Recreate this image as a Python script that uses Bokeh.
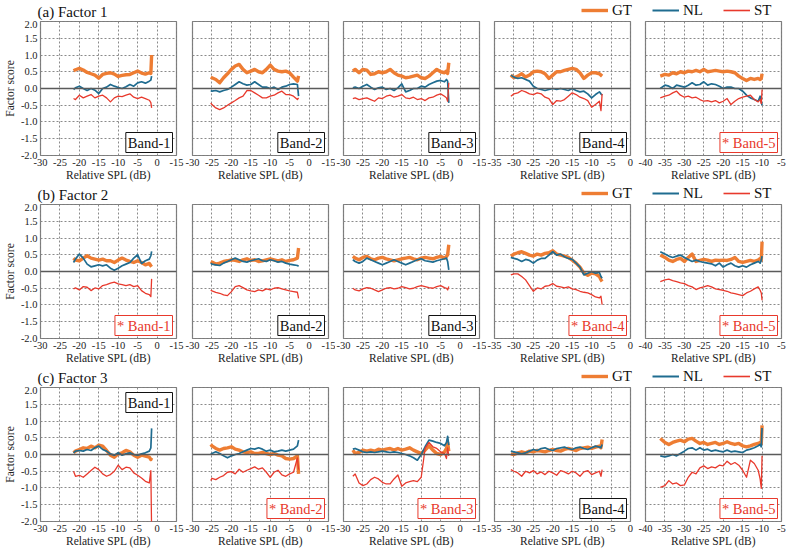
from bokeh.plotting import figure
from bokeh.layouts import row, column
from bokeh.models import (FixedTicker, Span, Label, Legend, LegendItem,
                          NumeralTickFormatter, Range1d)
from bokeh.embed import file_html
from bokeh.resources import INLINE

# ---------------- data ----------------
X_B1 = [-21.5, -21, -20, -19, -18, -17, -16, -15, -14, -13, -12, -11, -10, -9, -8, -7, -6, -5, -4, -3, -2, -1.6, -1.4]
X_B2 = [-25.3, -25, -24, -23, -22, -21, -20, -19, -18, -17, -16, -15, -14, -13, -12, -11, -10, -9, -8, -7, -6, -5, -4, -3, -2.7]
X_B3 = [-27.6, -27, -26, -25, -24, -23, -22, -21, -20, -19, -18, -17, -16, -15, -14, -13, -12, -11, -10, -9, -8, -7, -6, -5, -4, -3.5, -3.2, -2.9]
X_B4 = [-30.8, -30, -29, -28, -27, -26, -25, -24, -23, -22, -21, -20, -19, -18, -17, -16, -15, -14, -13, -12, -11, -10, -9, -8, -7.6, -7.3]
X_B5 = [-36.2, -35, -34, -33, -32, -31, -30, -29, -28, -27, -26, -25, -24, -23, -22, -21, -20, -19, -18, -17, -16, -15, -14, -13, -12, -11, -10.5, -10.2, -10.0]

# Factor 1
F1_B1_GT = [0.53, 0.56, 0.60, 0.55, 0.48, 0.44, 0.40, 0.31, 0.42, 0.45, 0.47, 0.43, 0.36, 0.39, 0.41, 0.42, 0.47, 0.52, 0.46, 0.43, 0.47, 0.45, 1.0]
F1_B1_NL = [-0.03, 0.02, 0.07, 0.0, -0.06, 0.0, -0.05, -0.15, 0.0, 0.04, 0.12, 0.07, 0.03, 0.0, 0.05, 0.12, 0.07, 0.17, 0.2, 0.16, 0.22, 0.25, 0.37]
F1_B1_ST = [-0.3, -0.33, -0.2, -0.28, -0.23, -0.18, -0.28, -0.23, -0.2, -0.28, -0.4, -0.28, -0.23, -0.24, -0.2, -0.16, -0.26, -0.3, -0.26, -0.3, -0.35, -0.42, -0.58]

F1_B2_GT = [0.34, 0.32, 0.27, 0.17, 0.32, 0.44, 0.57, 0.67, 0.72, 0.57, 0.47, 0.52, 0.57, 0.50, 0.47, 0.57, 0.70, 0.57, 0.52, 0.50, 0.52, 0.47, 0.34, 0.22, 0.38]
F1_B2_NL = [-0.06, -0.08, -0.06, -0.10, -0.06, -0.03, 0.04, 0.12, 0.20, 0.14, 0.10, 0.12, 0.20, 0.12, 0.04, 0.04, 0.0, 0.04, -0.03, 0.04, 0.07, 0.12, 0.14, 0.12, -0.23]
F1_B2_ST = [-0.43, -0.48, -0.58, -0.63, -0.58, -0.50, -0.43, -0.36, -0.28, -0.23, -0.06, -0.06, -0.13, -0.20, -0.28, -0.28, -0.23, -0.20, -0.13, -0.08, -0.18, -0.18, -0.23, -0.33, -0.28]

F1_B3_GT = [0.52, 0.57, 0.47, 0.57, 0.55, 0.42, 0.44, 0.50, 0.47, 0.50, 0.57, 0.47, 0.40, 0.37, 0.32, 0.34, 0.37, 0.40, 0.32, 0.30, 0.37, 0.47, 0.57, 0.50, 0.47, 0.52, 0.45, 0.77]
F1_B3_NL = [0.02, 0.04, 0.0, 0.07, 0.12, 0.04, -0.03, 0.02, 0.04, -0.03, 0.0, -0.06, 0.02, 0.14, -0.10, -0.06, 0.0, 0.0, 0.07, 0.04, 0.12, 0.17, 0.22, 0.24, 0.20, 0.27, 0.22, -0.43]
F1_B3_ST = [-0.30, -0.28, -0.33, -0.30, -0.28, -0.33, -0.38, -0.28, -0.30, -0.23, -0.20, -0.26, -0.23, -0.18, -0.28, -0.30, -0.26, -0.33, -0.30, -0.36, -0.28, -0.26, -0.20, -0.16, -0.23, -0.28, -0.38, 0.17]

F1_B4_GT = [0.40, 0.32, 0.37, 0.44, 0.34, 0.40, 0.50, 0.52, 0.50, 0.44, 0.30, 0.40, 0.50, 0.50, 0.54, 0.57, 0.60, 0.57, 0.47, 0.30, 0.40, 0.47, 0.47, 0.44, 0.40, 0.37]
F1_B4_NL = [0.40, 0.34, 0.30, 0.32, 0.27, 0.22, 0.07, 0.0, -0.03, -0.06, -0.03, 0.0, -0.03, 0.0, -0.03, -0.06, 0.0, -0.06, -0.10, -0.08, -0.16, -0.28, -0.18, -0.10, -0.16, -0.20]
F1_B4_ST = [-0.23, -0.16, -0.13, -0.06, -0.10, -0.16, -0.18, -0.13, -0.16, -0.26, -0.30, -0.48, -0.36, -0.38, -0.33, -0.23, -0.13, -0.18, -0.26, -0.30, -0.36, -0.56, -0.48, -0.38, -0.66, -0.16]

F1_B5_GT = [0.37, 0.42, 0.40, 0.47, 0.44, 0.50, 0.47, 0.52, 0.50, 0.54, 0.50, 0.57, 0.50, 0.52, 0.54, 0.52, 0.50, 0.52, 0.50, 0.47, 0.37, 0.30, 0.24, 0.30, 0.27, 0.30, 0.27, 0.30, 0.44]
F1_B5_NL = [0.0, 0.10, 0.07, 0.0, 0.10, 0.07, 0.04, 0.10, 0.17, 0.10, 0.12, 0.20, 0.10, 0.14, 0.12, 0.07, 0.0, 0.04, 0.04, 0.0, 0.0, -0.08, -0.20, -0.28, -0.33, -0.38, -0.23, -0.40, -0.50]
F1_B5_ST = [-0.28, -0.23, -0.20, -0.13, -0.08, -0.20, -0.26, -0.23, -0.28, -0.26, -0.33, -0.38, -0.36, -0.40, -0.36, -0.43, -0.38, -0.30, -0.48, -0.38, -0.30, -0.26, -0.23, -0.20, -0.33, -0.40, -0.33, -0.45, -0.03]

# Factor 2
F2_B1_GT = [0.40, 0.34, 0.32, 0.40, 0.47, 0.40, 0.37, 0.34, 0.37, 0.32, 0.32, 0.27, 0.34, 0.40, 0.34, 0.30, 0.27, 0.32, 0.27, 0.20, 0.24, 0.17, 0.14]
F2_B1_NL = [0.27, 0.37, 0.52, 0.40, 0.22, 0.14, 0.17, 0.20, 0.17, 0.20, 0.10, 0.04, 0.10, 0.17, 0.22, 0.27, 0.40, 0.50, 0.24, 0.32, 0.37, 0.47, 0.60]
F2_B1_ST = [-0.52, -0.49, -0.55, -0.45, -0.47, -0.57, -0.49, -0.52, -0.42, -0.39, -0.35, -0.32, -0.37, -0.39, -0.42, -0.39, -0.45, -0.42, -0.57, -0.65, -0.69, -0.75, -0.22]

F2_B2_GT = [0.30, 0.28, 0.22, 0.25, 0.30, 0.32, 0.35, 0.33, 0.30, 0.35, 0.38, 0.33, 0.35, 0.30, 0.32, 0.35, 0.38, 0.35, 0.32, 0.35, 0.30, 0.33, 0.35, 0.40, 0.70]
F2_B2_NL = [0.25, 0.22, 0.20, 0.18, 0.25, 0.30, 0.35, 0.40, 0.35, 0.30, 0.28, 0.32, 0.35, 0.38, 0.32, 0.30, 0.35, 0.32, 0.28, 0.30, 0.25, 0.22, 0.20, 0.18, 0.15]
F2_B2_ST = [-0.55, -0.58, -0.62, -0.65, -0.70, -0.72, -0.60, -0.45, -0.42, -0.48, -0.55, -0.58, -0.60, -0.55, -0.58, -0.52, -0.55, -0.50, -0.48, -0.52, -0.55, -0.58, -0.60, -0.62, -0.80]

F2_B3_GT = [0.45, 0.40, 0.35, 0.42, 0.45, 0.38, 0.35, 0.40, 0.42, 0.38, 0.35, 0.32, 0.35, 0.38, 0.40, 0.42, 0.38, 0.35, 0.40, 0.42, 0.40, 0.38, 0.42, 0.45, 0.40, 0.45, 0.50, 0.80]
F2_B3_NL = [0.35, 0.30, 0.25, 0.30, 0.40, 0.35, 0.30, 0.25, 0.20, 0.25, 0.30, 0.35, 0.30, 0.25, 0.20, 0.25, 0.30, 0.35, 0.38, 0.32, 0.30, 0.28, 0.32, 0.35, 0.38, 0.40, 0.30, 0.05]
F2_B3_ST = [-0.50, -0.55, -0.58, -0.52, -0.48, -0.50, -0.55, -0.60, -0.55, -0.50, -0.48, -0.52, -0.50, -0.45, -0.48, -0.52, -0.50, -0.45, -0.42, -0.45, -0.48, -0.50, -0.45, -0.42, -0.48, -0.50, -0.55, -0.45]

F2_B4_GT = [0.46, 0.52, 0.56, 0.59, 0.54, 0.49, 0.46, 0.52, 0.49, 0.54, 0.56, 0.62, 0.52, 0.49, 0.46, 0.42, 0.34, 0.25, 0.13, -0.05, -0.11, -0.05, -0.07, -0.15, -0.25, -0.30]
F2_B4_NL = [0.42, 0.39, 0.36, 0.30, 0.36, 0.33, 0.25, 0.34, 0.39, 0.39, 0.49, 0.59, 0.49, 0.52, 0.44, 0.39, 0.36, 0.25, 0.13, -0.10, -0.05, 0.0, -0.05, -0.03, -0.15, -0.20]
F2_B4_ST = [-0.10, -0.07, -0.07, -0.15, -0.25, -0.42, -0.59, -0.49, -0.52, -0.44, -0.42, -0.36, -0.44, -0.46, -0.49, -0.46, -0.52, -0.54, -0.59, -0.62, -0.64, -0.69, -0.76, -0.79, -0.74, -0.99]

F2_B5_GT = [0.49, 0.42, 0.34, 0.30, 0.36, 0.39, 0.30, 0.42, 0.52, 0.30, 0.33, 0.36, 0.34, 0.30, 0.34, 0.33, 0.34, 0.33, 0.36, 0.42, 0.30, 0.27, 0.30, 0.33, 0.30, 0.34, 0.39, 0.34, 0.89]
F2_B5_NL = [0.59, 0.52, 0.46, 0.42, 0.46, 0.49, 0.42, 0.36, 0.30, 0.34, 0.30, 0.27, 0.25, 0.23, 0.17, 0.25, 0.13, 0.20, 0.25, 0.17, 0.13, 0.17, 0.13, 0.20, 0.25, 0.30, 0.25, 0.34, 0.46]
F2_B5_ST = [-0.30, -0.25, -0.23, -0.27, -0.30, -0.34, -0.36, -0.42, -0.46, -0.54, -0.49, -0.46, -0.42, -0.46, -0.52, -0.54, -0.56, -0.59, -0.64, -0.66, -0.69, -0.72, -0.64, -0.59, -0.52, -0.46, -0.56, -0.64, -0.86]

# Factor 3
F3_B1_GT = [0.05, 0.10, 0.15, 0.20, 0.18, 0.25, 0.20, 0.28, 0.25, 0.12, -0.02, -0.08, 0.02, 0.05, 0.12, 0.08, -0.02, -0.08, -0.02, -0.05, -0.08, -0.15, -0.10]
F3_B1_NL = [0.05, 0.10, 0.12, 0.10, 0.15, 0.12, 0.20, 0.25, 0.15, 0.10, 0.02, -0.02, 0.05, -0.02, 0.02, 0.05, 0.0, -0.02, 0.02, 0.05, 0.10, 0.20, 0.78]
F3_B1_ST = [-0.50, -0.65, -0.62, -0.68, -0.58, -0.48, -0.38, -0.45, -0.58, -0.65, -0.60, -0.50, -0.32, -0.45, -0.38, -0.40, -0.55, -0.62, -0.70, -0.80, -0.85, -0.48, -2.3]

F3_B2_GT = [0.30, 0.26, 0.18, 0.13, 0.18, 0.20, 0.23, 0.16, 0.13, 0.08, 0.06, 0.08, 0.03, 0.03, 0.06, 0.03, 0.0, 0.03, -0.02, -0.04, -0.12, -0.14, -0.12, -0.04, -0.58]
F3_B2_NL = [0.0, 0.03, 0.08, 0.03, -0.04, -0.10, -0.04, 0.0, 0.03, 0.08, 0.13, 0.18, 0.16, 0.20, 0.16, 0.10, 0.13, 0.08, 0.10, 0.13, 0.10, 0.13, 0.16, 0.26, 0.43]
F3_B2_ST = [-0.78, -0.71, -0.75, -0.68, -0.63, -0.53, -0.51, -0.58, -0.44, -0.53, -0.47, -0.42, -0.37, -0.44, -0.40, -0.53, -0.68, -0.53, -0.47, -0.61, -0.65, -0.58, -0.53, -0.10, -0.45]

F3_B3_GT = [0.13, 0.03, 0.06, 0.13, 0.10, 0.13, 0.10, 0.16, 0.13, 0.16, 0.18, 0.13, 0.18, 0.13, 0.16, 0.20, 0.13, 0.08, 0.03, 0.13, 0.26, 0.13, 0.03, 0.0, 0.08, 0.18, 0.36, 0.10]
F3_B3_NL = [0.16, 0.18, 0.13, 0.08, 0.06, 0.08, 0.06, 0.08, 0.10, 0.08, 0.06, 0.08, 0.06, 0.03, 0.0, -0.04, -0.10, -0.17, 0.0, 0.23, 0.43, 0.40, 0.36, 0.33, 0.26, 0.36, 0.54, 0.28]
F3_B3_ST = [-0.65, -0.58, -0.85, -0.93, -0.88, -0.75, -0.68, -0.73, -0.83, -0.88, -0.88, -0.73, -0.61, -0.95, -0.85, -0.81, -0.78, -0.81, -0.68, 0.18, 0.36, 0.23, 0.18, 0.08, 0.03, -0.12, 0.20, -0.04]

F3_B4_GT = [0.02, 0.0, 0.05, 0.08, 0.05, 0.10, 0.08, 0.12, 0.10, 0.08, 0.12, 0.15, 0.12, 0.10, 0.15, 0.18, 0.15, 0.12, 0.18, 0.20, 0.22, 0.18, 0.22, 0.25, 0.20, 0.45]
F3_B4_NL = [0.10, 0.08, 0.05, 0.02, 0.05, 0.10, 0.15, 0.12, 0.18, 0.20, 0.15, 0.12, 0.18, 0.20, 0.22, 0.18, 0.15, 0.20, 0.22, 0.18, 0.15, 0.20, 0.25, 0.22, 0.20, 0.30]
F3_B4_ST = [-0.45, -0.50, -0.55, -0.65, -0.50, -0.55, -0.48, -0.58, -0.52, -0.60, -0.50, -0.55, -0.62, -0.48, -0.52, -0.58, -0.50, -0.55, -0.65, -0.52, -0.48, -0.60, -0.55, -0.50, -0.65, -0.45]

F3_B5_GT = [0.48, 0.36, 0.30, 0.36, 0.40, 0.43, 0.38, 0.46, 0.48, 0.40, 0.33, 0.36, 0.30, 0.33, 0.36, 0.30, 0.33, 0.38, 0.33, 0.30, 0.33, 0.26, 0.23, 0.26, 0.30, 0.33, 0.36, 0.33, 0.87]
F3_B5_NL = [-0.04, -0.07, -0.04, 0.0, -0.04, 0.03, 0.10, 0.18, 0.20, 0.13, 0.20, 0.13, 0.16, 0.10, 0.13, 0.10, 0.08, 0.13, 0.08, 0.10, 0.08, 0.06, 0.13, 0.16, 0.20, 0.26, 0.30, 0.23, 0.79]
F3_B5_ST = [-0.98, -0.93, -0.78, -0.88, -0.85, -0.93, -0.91, -0.68, -0.53, -0.58, -0.40, -0.34, -0.42, -0.37, -0.40, -0.32, -0.34, -0.20, -0.30, -0.24, -0.32, -0.47, -0.68, -0.17, -0.27, -0.47, -0.73, -1.01, -0.04]

FACTOR_TITLES = ["(a) Factor 1", "(b) Factor 2", "(c) Factor 3"]
BAND_NAMES = ["Band-1", "Band-2", "Band-3", "Band-4", "Band-5"]
SIGNIFICANT = [[False, False, False, False, True],
               [True, False, False, True, True],
               [False, True, True, False, True]]
SERIES_NAMES = ["GT", "NL", "ST"]
Y_TICKS = [-2.0, -1.5, -1.0, -0.5, 0.0, 0.5, 1.0, 1.5, 2.0]
X_TICKS = [[-30, -25, -20, -15, -10, -5, 0, 5],
           [-30, -25, -20, -15, -10, -5, 0, 5],
           [-30, -25, -20, -15, -10, -5, 0, 5],
           [-35, -30, -25, -20, -15, -10, -5, 0],
           [-40, -35, -30, -25, -20, -15, -10, -5]]
X_TICK_LABELS = [["-30", "-25", "-20", "-15", "-10", "-5", "0", "-15"],
                 ["-30", "-25", "-20", "-15", "-10", "-5", "0", "-15"],
                 ["-30", "-25", "-20", "-15", "-10", "-5", "0", "-15"],
                 ["-35", "-30", "-25", "-20", "-15", "-10", "-5", "0"],
                 ["-40", "-35", "-30", "-25", "-20", "-15", "-10", "-5"]]

X_BY_BAND = [X_B1, X_B2, X_B3, X_B4, X_B5]
DATA = [
    [(F1_B1_GT, F1_B1_NL, F1_B1_ST), (F1_B2_GT, F1_B2_NL, F1_B2_ST), (F1_B3_GT, F1_B3_NL, F1_B3_ST),
     (F1_B4_GT, F1_B4_NL, F1_B4_ST), (F1_B5_GT, F1_B5_NL, F1_B5_ST)],
    [(F2_B1_GT, F2_B1_NL, F2_B1_ST), (F2_B2_GT, F2_B2_NL, F2_B2_ST), (F2_B3_GT, F2_B3_NL, F2_B3_ST),
     (F2_B4_GT, F2_B4_NL, F2_B4_ST), (F2_B5_GT, F2_B5_NL, F2_B5_ST)],
    [(F3_B1_GT, F3_B1_NL, F3_B1_ST), (F3_B2_GT, F3_B2_NL, F3_B2_ST), (F3_B3_GT, F3_B3_NL, F3_B3_ST),
     (F3_B4_GT, F3_B4_NL, F3_B4_ST), (F3_B5_GT, F3_B5_NL, F3_B5_ST)],
]

# ---------------- styles ----------------
FONT = "Liberation Serif"
COLORS = {"GT": "#EE7D33", "NL": "#1F6C90", "ST": "#E8392C"}
WIDTHS = {"GT": 3.4, "NL": 1.7, "ST": 1.3}
RED_LABEL = "#E8392C"
FW, FH = 136, 134
HEADER_W, HEADER_H = 790, 20
EPS = 0.002


def header(fi):
    h = figure(frame_width=HEADER_W, frame_height=HEADER_H,
               x_range=Range1d(0, HEADER_W), y_range=Range1d(0, HEADER_H),
               output_backend="svg", toolbar_location=None,
               min_border_left=0, min_border_right=0, min_border_top=0, min_border_bottom=0)
    h.axis.visible = False
    h.grid.visible = False
    h.outline_line_color = None
    h.background_fill_color = "white"
    h.border_fill_color = "white"
    h.add_layout(Label(x=37, y=1, x_units="screen", y_units="screen", text=FACTOR_TITLES[fi],
                       text_font=FONT, text_font_size="15px", text_baseline="bottom",
                       text_color="#111111"))
    # legend: its renderers carry the series (kept hidden here, drawn in the panels)
    items = []
    for k, name in enumerate(SERIES_NAMES):
        r = h.line(X_B1, DATA[fi][0][k], line_color=COLORS[name],
                   line_width=WIDTHS[name] + (0.3 if name != "GT" else 0), visible=False)
        items.append(LegendItem(label=name, renderers=[r]))
    leg = Legend(items=items, location=(581, 0), orientation="horizontal",
                 glyph_width=27, glyph_height=20, label_height=20, label_width=18,
                 label_standoff=4, padding=0, margin=0, spacing=20,
                 border_line_color=None, background_fill_alpha=0,
                 inactive_fill_alpha=0, click_policy="none",
                 label_text_font=FONT, label_text_font_size="15px",
                 label_text_color="#111111")
    h.add_layout(leg)
    return h


blocks = []
for fi in range(3):
    figs = []
    for bi in range(5):
        left = 37 if bi == 0 else 8
        right = 8 if bi == 0 else 7
        xt = X_TICKS[bi]
        p = figure(frame_width=FW, frame_height=FH,
                   x_range=Range1d(xt[0] - EPS, xt[-1] + EPS),
                   y_range=Range1d(-2.0 - EPS / 4, 2.0 + EPS / 4),
                   output_backend="svg", toolbar_location=None,
                   min_border_left=left, min_border_right=right,
                   min_border_top=1, min_border_bottom=27)
        p.background_fill_color = "white"
        p.border_fill_color = "white"
        p.outline_line_color = "#7a7a7a"
        p.outline_line_width = 1.2

        # x axis
        p.xaxis.ticker = FixedTicker(ticks=xt)
        p.xaxis.major_label_overrides = {t: lab for t, lab in zip(xt, X_TICK_LABELS[bi])}
        p.xaxis.axis_label = "Relative SPL (dB)"
        p.xaxis.axis_line_color = None
        p.xaxis.major_tick_line_color = None
        p.xaxis.minor_tick_line_color = None
        p.xaxis.major_tick_out = 0
        p.xaxis.major_tick_in = 0
        p.xaxis.major_label_standoff = 3
        p.xaxis.axis_label_standoff = 0
        p.xaxis.major_label_text_font = FONT
        p.xaxis.major_label_text_font_size = "10.5px"
        p.xaxis.major_label_text_color = "#222222"
        p.xaxis.axis_label_text_font = FONT
        p.xaxis.axis_label_text_font_style = "normal"
        p.xaxis.axis_label_text_font_size = "11.5px"
        p.xaxis.axis_label_text_color = "#222222"

        # y axis
        if bi == 0:
            p.yaxis.ticker = FixedTicker(ticks=Y_TICKS)
            p.yaxis.formatter = NumeralTickFormatter(format="0.0")
            p.yaxis.axis_label = "Factor score"
            p.yaxis.axis_line_color = None
            p.yaxis.major_tick_line_color = None
            p.yaxis.minor_tick_line_color = None
            p.yaxis.major_tick_out = 0
            p.yaxis.major_tick_in = 0
            p.yaxis.major_label_standoff = 3
            p.yaxis.axis_label_standoff = 2
            p.yaxis.major_label_text_font = FONT
            p.yaxis.major_label_text_font_size = "10.5px"
            p.yaxis.major_label_text_color = "#222222"
            p.yaxis.axis_label_text_font = FONT
            p.yaxis.axis_label_text_font_style = "normal"
            p.yaxis.axis_label_text_font_size = "11.5px"
            p.yaxis.axis_label_text_color = "#222222"
        else:
            p.yaxis.visible = False
        p.ygrid.ticker = FixedTicker(ticks=Y_TICKS)

        p.grid.grid_line_color = "#8a8a8a"
        p.grid.grid_line_dash = "2 2"
        p.grid.grid_line_width = 1

        p.add_layout(Span(location=0, dimension="width", line_color="#5a5a5a", line_width=1.3))

        xs = X_BY_BAND[bi]
        for name, ys in zip(SERIES_NAMES, DATA[fi][bi]):
            p.line(xs, ys, line_color=COLORS[name], line_width=WIDTHS[name], line_join="round")

        # band label
        sig = SIGNIFICANT[fi][bi]
        txt = ("* " if sig else "") + BAND_NAMES[bi]
        col = RED_LABEL if sig else "#111111"
        if fi == 2 and bi == 0:
            lab = Label(x=FW - 4, y=FH - 5, x_units="screen", y_units="screen", text=txt,
                        text_align="right", text_baseline="top")
        else:
            lab = Label(x=FW - 4, y=3, x_units="screen", y_units="screen", text=txt,
                        text_align="right", text_baseline="bottom")
        lab.text_font = FONT
        lab.text_font_size = "14.5px"
        lab.text_color = col
        lab.border_line_color = col
        lab.border_line_width = 1
        lab.background_fill_color = "white"
        lab.padding = 2
        p.add_layout(lab)
        figs.append(p)
    blocks.append(header(fi))
    blocks.append(row(*figs))

layout = column(*blocks)
open("out.html", "w").write(file_html(layout, INLINE))
